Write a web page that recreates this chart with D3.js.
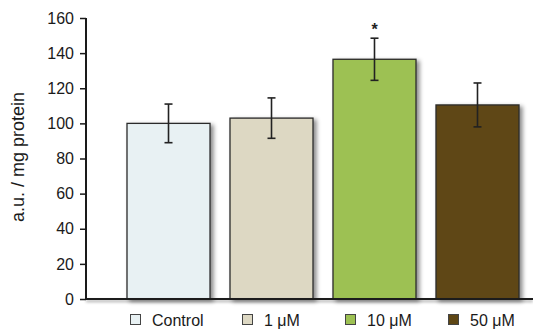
<!DOCTYPE html>
<html>
<head>
<meta charset="utf-8">
<script src="https://cdn.jsdelivr.net/npm/d3@7"></script>
<style>
  html, body { margin: 0; padding: 0; background: #fff; }
  svg { display: block; font-family: "Liberation Sans", Arial, sans-serif; }
</style>
</head>
<body>
<svg id="chart" width="533" height="329"></svg>
<script>
// Treatment groups and their measured means with standard errors
const groups = ["Control", "1 \u03BCM", "10 \u03BCM", "50 \u03BCM"];
const means = [100, 103, 136.5, 110.5];
const errors = [11, 11.5, 12, 12.5];
const significant = [false, false, true, false];
const colors = ["#e8f1f3", "#ddd8c3", "#9dc153", "#5e4614"];
const yTicks = [0, 20, 40, 60, 80, 100, 120, 140, 160];

const svg = d3.select("#chart");
const margin = { left: 86, top: 18 };
const plotBottom = 299;
const plotRight = 533;

const y = d3.scaleLinear().domain([0, 160]).range([plotBottom, margin.top]);
const x = d3.scaleBand().domain(groups).range([127, 519]).paddingInner(0.194).paddingOuter(0);

// soft shadows for bars and baseline
const defs = svg.append("defs");
const f = defs.append("filter").attr("id", "shadow")
  .attr("x", "-20%").attr("y", "-20%").attr("width", "150%").attr("height", "150%");
f.append("feDropShadow").attr("dx", 3).attr("dy", 2).attr("stdDeviation", 2.2)
  .attr("flood-color", "#000").attr("flood-opacity", 0.45);
const fl = defs.append("filter").attr("id", "lineShadow")
  .attr("filterUnits", "userSpaceOnUse")
  .attr("x", 0).attr("y", 290).attr("width", 533).attr("height", 20);
fl.append("feDropShadow").attr("dx", 0).attr("dy", 2).attr("stdDeviation", 1.5)
  .attr("flood-color", "#000").attr("flood-opacity", 0.35);

// bars
svg.append("g").selectAll("rect").data(groups).join("rect")
  .attr("x", d => x(d))
  .attr("y", (d, i) => y(means[i]))
  .attr("width", x.bandwidth())
  .attr("height", (d, i) => plotBottom - y(means[i]))
  .attr("fill", (d, i) => colors[i])
  .attr("stroke", "#2b2b2b")
  .attr("stroke-width", 1.3)
  .attr("filter", "url(#shadow)");

// error bars
const eb = svg.append("g").attr("stroke", "#222").attr("stroke-width", 1.6);
groups.forEach((g, i) => {
  const cx = x(g) + x.bandwidth() / 2;
  const hi = y(means[i] + errors[i]);
  const lo = y(means[i] - errors[i]);
  eb.append("line").attr("x1", cx).attr("x2", cx).attr("y1", hi).attr("y2", lo);
  eb.append("line").attr("x1", cx - 4).attr("x2", cx + 4).attr("y1", hi).attr("y2", hi);
  eb.append("line").attr("x1", cx - 4).attr("x2", cx + 4).attr("y1", lo).attr("y2", lo);
  if (significant[i]) {
    svg.append("text").attr("x", cx).attr("y", hi - 3)
      .attr("text-anchor", "middle").attr("font-size", 16).attr("font-weight", "bold")
      .attr("fill", "#222").text("*");
  }
});

// x axis baseline
svg.append("line").attr("x1", margin.left).attr("x2", plotRight)
  .attr("y1", plotBottom).attr("y2", plotBottom)
  .attr("stroke", "#1a1a1a").attr("stroke-width", 2)
  .attr("filter", "url(#lineShadow)");

// y axis
const yAxis = svg.append("g").attr("transform", `translate(${margin.left},0)`)
  .call(d3.axisLeft(y).tickValues(yTicks).tickSize(6).tickPadding(6));
yAxis.attr("font-size", 16).attr("font-family", "Liberation Sans, Arial, sans-serif");
yAxis.select(".domain").attr("stroke", "#1a1a1a").attr("stroke-width", 2)
  .attr("d", `M0,${margin.top}V${plotBottom}`);
yAxis.selectAll(".tick line").attr("stroke", "#1a1a1a").attr("stroke-width", 1.5);
yAxis.selectAll(".tick text").attr("fill", "#1a1a1a");

// y axis title
svg.append("text")
  .attr("transform", `translate(24,157) rotate(-90)`)
  .attr("text-anchor", "middle").attr("font-size", 18).attr("fill", "#1a1a1a")
  .text("a.u. / mg protein");

// legend
const legendX = [130, 242, 345, 448];
const legend = svg.append("g");
groups.forEach((g, i) => {
  legend.append("rect").attr("x", legendX[i] + 0.5).attr("y", 314.5)
    .attr("width", 10).attr("height", 10)
    .attr("fill", colors[i]).attr("stroke", "#444").attr("stroke-width", 1);
  legend.append("text").attr("x", legendX[i] + 22).attr("y", 325.5)
    .attr("font-size", 16).attr("fill", "#1a1a1a").text(g);
});
</script>
</body>
</html>
